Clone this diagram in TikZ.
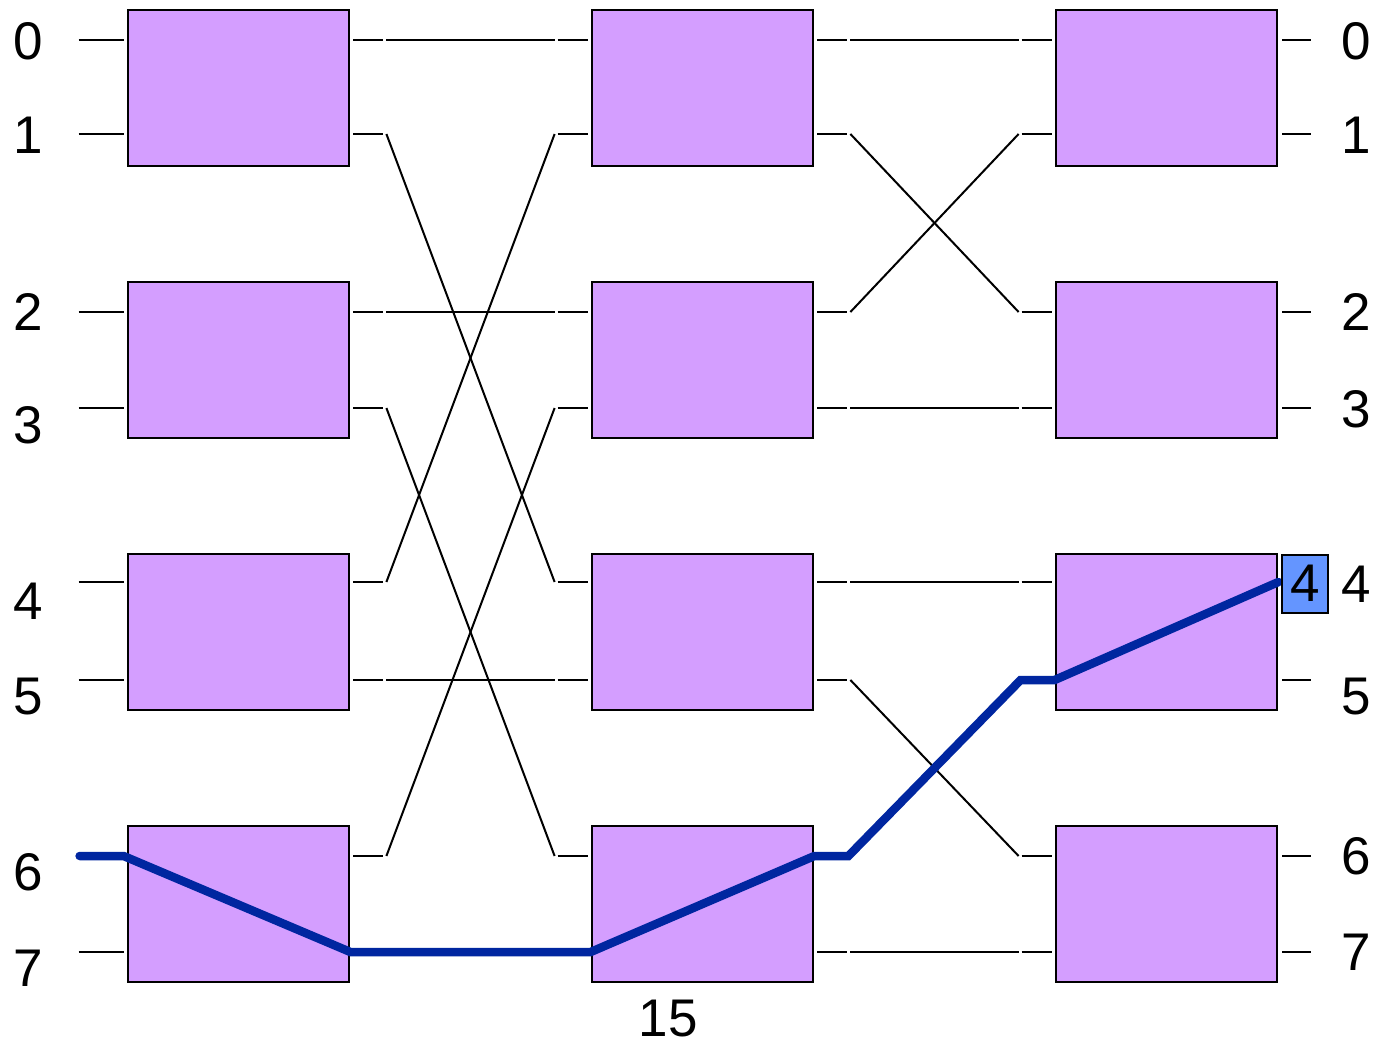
\documentclass[tikz,border=0pt]{standalone}
\usepackage{fontspec}
\setmainfont{Liberation Sans}
\usetikzlibrary{calc}
\definecolor{swfill}{RGB}{212,158,255}
\definecolor{routeblue}{RGB}{0,38,160}
\definecolor{tagfill}{RGB}{100,149,255}
\tikzstyle{switch} = [rectangle, minimum width=221pt, minimum height=156pt, inner sep=0pt, draw=black, line width=2.8pt, fill=swfill]
\tikzstyle{wire} = [line width=2pt]
\tikzstyle{route} = [line width=8.5pt, draw=routeblue, line cap=round]
\tikzstyle{tag} = [rectangle, minimum width=46pt, minimum height=58pt, inner sep=0pt, draw=black, line width=2pt, fill=tagfill, font=\fontsize{53}{53}\selectfont]
\tikzstyle{num} = [inner sep=0pt, font=\fontsize{53}{53}\selectfont]

\begin{document}
\begin{tikzpicture}[x=1pt, y=-1pt]
\useasboundingbox (0,0) rectangle (1375,1046);

% three stages of 2x2 switches
\foreach \c/\x in {1/238.5, 2/702.5, 3/1166.5}
  \foreach \r/\y in {0/88, 1/360, 2/632, 3/904}
    \node (s\c\r) [switch] at (\x,\y) {};

% input and output pins of every switch
\foreach \k/\y in {0/40, 1/134, 2/312, 3/408, 4/582, 5/680, 6/856, 7/952} {
  \pgfmathtruncatemacro\r{\k/2}
  \foreach \c in {1,2,3} {
    \coordinate (i\c\k) at (s\c\r.west |- 0,\y);
    \coordinate (o\c\k) at (s\c\r.east |- 0,\y);
  }
}

% stubs into the first stage and out of the last one
\foreach \k in {0,...,7} {
  \draw [wire] ([xshift=-48pt]i1\k) -- ([xshift=-3pt]i1\k);
  \draw [wire] ([xshift=4pt]o3\k) -- ([xshift=33pt]o3\k);
}

% links between stages
\foreach \a/\b in {0/0, 1/4, 2/2, 3/6, 4/1, 5/5, 6/3, 7/7} {
  \draw [wire] ([xshift=3pt]o1\a) -- ([xshift=33pt]o1\a);
  \draw [wire] ([xshift=36pt]o1\a) -- ([xshift=-36pt]i2\b);
  \draw [wire] ([xshift=-33pt]i2\b) -- ([xshift=-3pt]i2\b);
}
\foreach \a/\b in {0/0, 1/2, 2/1, 3/3, 4/4, 5/6, 6/5, 7/7} {
  \draw [wire] ([xshift=3pt]o2\a) -- ([xshift=33pt]o2\a);
  \draw [wire] ([xshift=36pt]o2\a) -- ([xshift=-36pt]i3\b);
  \draw [wire] ([xshift=-33pt]i3\b) -- ([xshift=-3pt]i3\b);
}

% route from input 6 to output 4
\coordinate (src) at ([xshift=-47pt]i16);
\draw [route] (src) -- ([xshift=-3pt]i16) -- (o17) -- (i27) -- (o26)
  -- ([xshift=34pt]o26) -- ([xshift=-34pt]i35) -- (i35) -- (o34);
\node (dst) [tag, anchor=west] at ([xshift=3pt,yshift=-1.5pt]o34) {4};

% port numbers
\foreach \k/\y in {0/41, 1/135, 2/312, 3/425, 4/601, 5/697, 6/872, 7/968}
  \node (l\k) [num] at (28,\y) {\k};
\foreach \k/\y in {0/41, 1/135, 2/312, 3/409, 4/584, 5/697, 6/856, 7/952}
  \node (r\k) [num] at (1356,\y) {\k};
\node (cost) [num] at (668,1019) {15};
\end{tikzpicture}
\end{document}
